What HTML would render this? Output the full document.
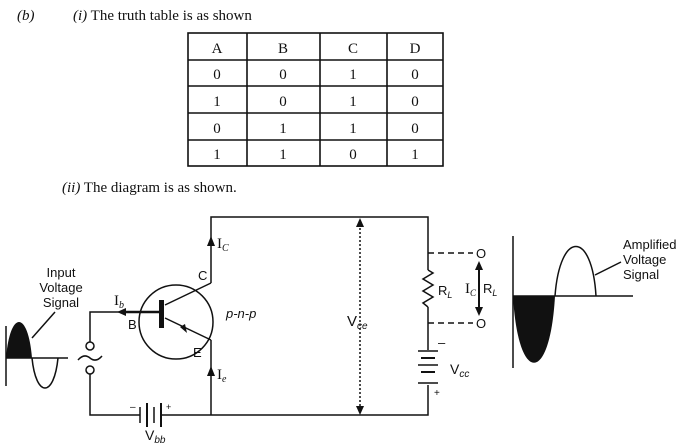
<!DOCTYPE html>
<html><head><meta charset="utf-8"><style>
html,body{margin:0;padding:0;background:#fff;}
svg{display:block;}
.s{font-family:"Liberation Serif",serif;font-size:15px;fill:#111;}
.a{font-family:"Liberation Sans",sans-serif;font-size:13px;fill:#111;}
</style></head><body>
<svg width="682" height="447" viewBox="0 0 682 447" xmlns="http://www.w3.org/2000/svg">
<text class="s" x="17" y="20"><tspan font-style="italic">(b)</tspan></text>
<text class="s" x="73" y="20"><tspan font-style="italic">(i)</tspan> The truth table is as shown</text>
<g stroke="#111" stroke-width="1.6" fill="none">
<rect x="188" y="33" width="255" height="133"/>
<line x1="247" y1="33" x2="247" y2="166"/><line x1="320" y1="33" x2="320" y2="166"/><line x1="387" y1="33" x2="387" y2="166"/>
<line x1="188" y1="60" x2="443" y2="60"/><line x1="188" y1="86" x2="443" y2="86"/><line x1="188" y1="113" x2="443" y2="113"/><line x1="188" y1="140" x2="443" y2="140"/>
</g>
<g class="s" text-anchor="middle">
<text x="217" y="53">A</text><text x="283" y="53">B</text><text x="353" y="53">C</text><text x="415" y="53">D</text>
<text x="217" y="79">0</text><text x="283" y="79">0</text><text x="353" y="79">1</text><text x="415" y="79">0</text>
<text x="217" y="106">1</text><text x="283" y="106">0</text><text x="353" y="106">1</text><text x="415" y="106">0</text>
<text x="217" y="133">0</text><text x="283" y="133">1</text><text x="353" y="133">1</text><text x="415" y="133">0</text>
<text x="217" y="159">1</text><text x="283" y="159">1</text><text x="353" y="159">0</text><text x="415" y="159">1</text>
</g>
<text class="s" x="62" y="192"><tspan font-style="italic">(ii)</tspan> The diagram is as shown.</text>

<g stroke="#111" stroke-width="1.5" fill="none">
<polyline points="211,283 211,217 428,217 428,270"/>
<polyline points="428,307 428,350"/>
<polyline points="428,385 428,415 162,415"/>
<polyline points="211,340 211,415"/>
<polyline points="140,415 90,415 90,374"/>
<polyline points="90,342 90,312 160,312"/>
<circle cx="90" cy="346" r="4"/><circle cx="90" cy="370" r="4"/>
<path d="M78,360 q6,-7 12,-2 q6,5 12,-2"/>
<line x1="140" y1="407" x2="140" y2="423"/><line x1="147" y1="403" x2="147" y2="427" stroke-width="2"/>
<line x1="154" y1="407" x2="154" y2="423"/><line x1="161" y1="403" x2="161" y2="427" stroke-width="2"/>
<circle cx="176" cy="322" r="37"/>
<line x1="165" y1="305" x2="211" y2="283"/>
<line x1="165" y1="318" x2="211" y2="340"/>
<polyline points="428,270 433,273 423,279 433,285 423,291 433,297 423,303 428,307"/>
<line x1="418" y1="351" x2="438" y2="351"/><line x1="421" y1="358" x2="435" y2="358" stroke-width="2"/>
<line x1="418" y1="365" x2="438" y2="365"/><line x1="421" y1="372" x2="435" y2="372" stroke-width="2"/>
<line x1="418" y1="383" x2="438" y2="383"/>
<line x1="428" y1="253" x2="473" y2="253" stroke-dasharray="6,4"/>
<line x1="428" y1="323" x2="473" y2="323" stroke-dasharray="6,4"/>
<line x1="360" y1="224" x2="360" y2="408" stroke-dasharray="2,2"/>
<line x1="479" y1="266" x2="479" y2="311" stroke-width="2"/>
<line x1="513" y1="236" x2="513" y2="368"/>
<line x1="513" y1="296" x2="633" y2="296"/>
<path d="M555,296 C560,230 592,230 596,296"/>
<line x1="595" y1="275" x2="621" y2="262"/>
<line x1="6" y1="326" x2="6" y2="386"/>
<line x1="6" y1="358" x2="68" y2="358"/>
<path d="M32,358 C36,398 54,398 58,358"/>
<line x1="32" y1="338" x2="55" y2="312"/>
</g>
<rect x="159" y="300" width="5" height="28" fill="#111"/>
<line x1="120" y1="312" x2="160" y2="312" stroke="#111" stroke-width="2.5"/>
<path d="M513,296 C518,385 550,385 555,296 Z" fill="#111"/>
<path d="M6,358 C10,310 28,310 32,358 Z" fill="#111"/>
<g fill="#111">
<polygon points="211,236 207,246 215,246"/>
<polygon points="211,366 207,376 215,376"/>
<polygon points="117,312 126,308 126,316"/>
<polygon points="180,327 187,333 185,324"/>
<polygon points="360,218 356,227 364,227"/>
<polygon points="360,415 356,406 364,406"/>
<polygon points="479,261 475,270 483,270"/>
<polygon points="479,316 475,307 483,307"/>
</g>
<g class="a">
<text x="481" y="258" text-anchor="middle">O</text><text x="481" y="328" text-anchor="middle">O</text>
<text x="217" y="248" class="s">I<tspan font-size="10" font-style="italic" dy="3">C</tspan></text>
<text x="217" y="379" class="s">I<tspan font-size="10" font-style="italic" dy="3">e</tspan></text>
<text x="114" y="305" class="s">I<tspan font-size="10" font-style="italic" dy="3">b</tspan></text>
<text x="198" y="280">C</text>
<text x="128" y="329">B</text>
<text x="193" y="357">E</text>
<text x="226" y="318" font-style="italic">p-n-p</text>
<text x="347" y="326" font-size="15">V<tspan font-size="10" font-style="italic" dy="3">ce</tspan></text>
<text x="438" y="295">R<tspan font-size="9" font-style="italic" dy="3">L</tspan></text>
<text x="465" y="293" class="s">I<tspan font-size="9" font-style="italic" dy="3">C</tspan></text>
<text x="483" y="293">R<tspan font-size="9" font-style="italic" dy="3">L</tspan></text>
<text x="450" y="374" font-size="14">V<tspan font-size="10" font-style="italic" dy="3">cc</tspan></text>
<text x="438" y="347">–</text><text x="434" y="396" font-size="10">+</text>
<text x="130" y="410" font-size="10">–</text><text x="166" y="410" font-size="9">+</text>
<text x="145" y="440" font-size="14">V<tspan font-size="10" font-style="italic" dy="3">bb</tspan></text>
<text x="61" y="277" text-anchor="middle">Input</text>
<text x="61" y="292" text-anchor="middle">Voltage</text>
<text x="61" y="307" text-anchor="middle">Signal</text>
<text x="623" y="249">Amplified</text>
<text x="623" y="264">Voltage</text>
<text x="623" y="279">Signal</text>
</g>
</svg>
</body></html>
